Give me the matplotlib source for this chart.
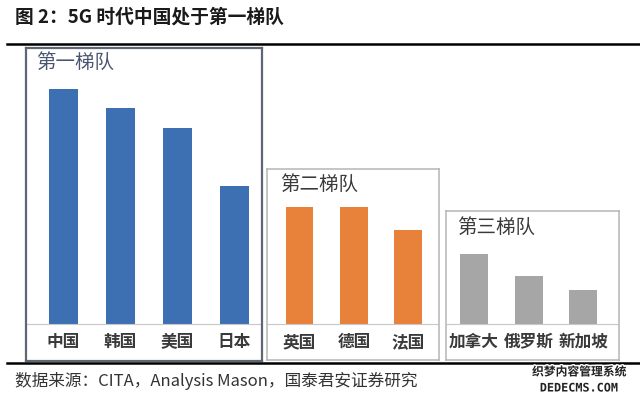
import matplotlib
matplotlib.use("Agg")
from matplotlib import pyplot as plt
from matplotlib.lines import Line2D
import matplotlib.patheffects as pe

plt.rcParams['font.family'] = ['Noto Sans CJK SC', 'DejaVu Sans']

# bar heights (baseline = 0)
tier1_names = ["中国", "韩国", "美国", "日本"]
tier1_values = [235, 216, 196, 138]
tier2_names = ["英国", "德国", "法国"]
tier2_values = [117, 117, 94]
tier3_names = ["加拿大", "俄罗斯", "新加坡"]
tier3_values = [70, 48, 34]
tier_titles = ["第一梯队", "第二梯队", "第三梯队"]
tier_colors = ["#3d70b2", "#e8823a", "#a6a6a6"]

W, H = 640, 397
fig = plt.figure(figsize=(W / 100, H / 100), dpi=100)
fig.patch.set_facecolor("white")


def px_rect(left, top, right, bottom):
    return [left / W, 1 - bottom / H, (right - left) / W, (bottom - top) / H]


# (box in px, xlim, ylim, frame colour, frame width, title offset px)
panels = [
    (px_rect(26, 48, 262, 361), (-0.65, 3.49), (-37, 276), "#5f6673", 1.6, (10, -14)),
    (px_rect(267, 169, 439, 360), (-0.6, 2.57), (-36, 155), "#b5b5b5", 1.1, (13, -15)),
    (px_rect(446, 211, 619, 360), (-0.51, 2.65), (-36, 113), "#b5b5b5", 1.1, (11, -16)),
]
data = [(tier1_names, tier1_values), (tier2_names, tier2_values), (tier3_names, tier3_values)]
title_colors = ["#4a5670", "#3a3a3a", "#3a3a3a"]

for (rect, xl, yl, ec, lw, off), (names, vals), title, col, tcol in zip(
        panels, data, tier_titles, tier_colors, title_colors):
    ax = fig.add_axes(rect)
    x = range(len(vals))
    ax.bar(x, vals, width=0.51, color=col)
    ax.axhline(0, color="#c8c8c8", lw=0.8)
    ax.set_xlim(*xl)
    ax.set_ylim(*yl)
    ax.set_xticks([])
    ax.set_yticks([])
    for s in ax.spines.values():
        s.set_edgecolor(ec)
        s.set_linewidth(lw)
    for i, n in enumerate(names):
        ax.text(i, -18, n, ha="center", va="center", fontsize=12,
                fontweight="bold", color="#3a3a3a")
    ax.annotate(title, xy=(0, 1), xycoords="axes fraction", xytext=off,
                textcoords="offset pixels", ha="left", va="center",
                fontsize=14, color=tcol)

# header / footer rules
fig.add_artist(Line2D([7 / W, 1], [1 - 44 / H] * 2, color="black", lw=1.8))
fig.add_artist(Line2D([7 / W, 1], [1 - 363 / H] * 2, color="black", lw=1.8))

fig.text(15 / W, 1 - 17 / H, "图 2：5G 时代中国处于第一梯队", ha="left", va="center",
         fontsize=13.5, fontweight="bold", color="#1a1a1a")
fig.text(15 / W, 1 - 381 / H, "数据来源：CITA，Analysis Mason，国泰君安证券研究",
         ha="left", va="center", fontsize=12, color="#333333")

# watermark
stroke = [pe.withStroke(linewidth=2, foreground="white")]
fig.text(579 / W, 1 - 372 / H, "织梦内容管理系统", ha="center", va="center",
         fontsize=8.5, fontweight="bold", color="#222222", path_effects=stroke)
fig.text(579 / W, 1 - 388 / H, "DEDECMS.COM", ha="center", va="center",
         fontsize=8.5, fontweight="bold", color="#222222", path_effects=stroke,
         family=["DejaVu Sans Mono", "DejaVu Sans"])

fig.savefig("out.png", dpi=100, facecolor="white")
